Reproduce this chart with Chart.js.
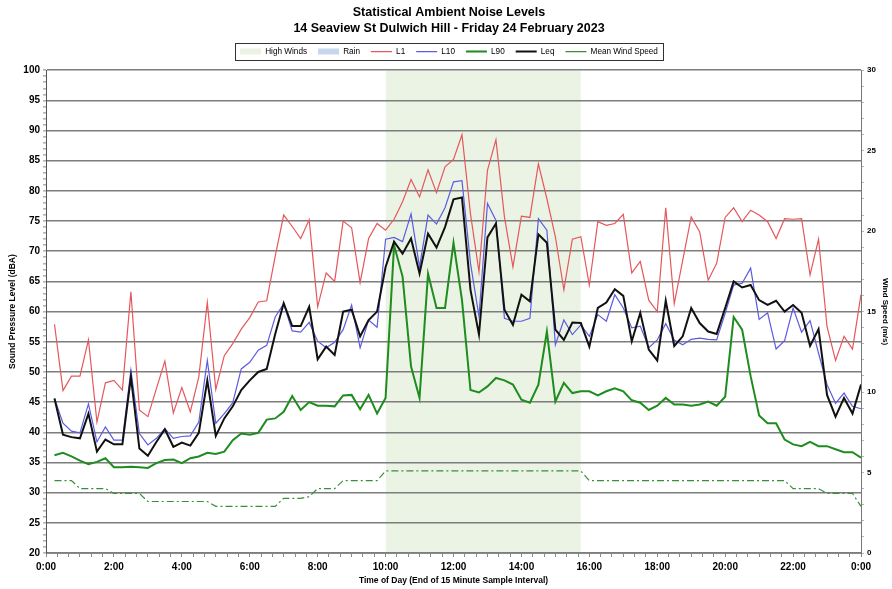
<!DOCTYPE html>
<html>
<head>
<meta charset="utf-8">
<script src="https://cdn.jsdelivr.net/npm/chart.js@4/dist/chart.umd.min.js"></script>
<style>
  html, body { margin: 0; padding: 0; background: #fff; }
  #wrap { width: 892px; height: 589px; }
</style>
</head>
<body>
<div id="wrap"><canvas id="noiseChart" width="892" height="589"></canvas></div>
<script>
/* global Chart:false */

// End of each 15 minute sample interval
var times = [
  "0:15", "0:30", "0:45", "1:00", "1:15", "1:30", "1:45", "2:00",
  "2:15", "2:30", "2:45", "3:00", "3:15", "3:30", "3:45", "4:00",
  "4:15", "4:30", "4:45", "5:00", "5:15", "5:30", "5:45", "6:00",
  "6:15", "6:30", "6:45", "7:00", "7:15", "7:30", "7:45", "8:00",
  "8:15", "8:30", "8:45", "9:00", "9:15", "9:30", "9:45", "10:00",
  "10:15", "10:30", "10:45", "11:00", "11:15", "11:30", "11:45", "12:00",
  "12:15", "12:30", "12:45", "13:00", "13:15", "13:30", "13:45", "14:00",
  "14:15", "14:30", "14:45", "15:00", "15:15", "15:30", "15:45", "16:00",
  "16:15", "16:30", "16:45", "17:00", "17:15", "17:30", "17:45", "18:00",
  "18:15", "18:30", "18:45", "19:00", "19:15", "19:30", "19:45", "20:00",
  "20:15", "20:30", "20:45", "21:00", "21:15", "21:30", "21:45", "22:00",
  "22:15", "22:30", "22:45", "23:00", "23:15", "23:30", "23:45", "24:00"
];

var l1 = [
  57.9, 46.9, 49.3, 49.3, 55.3, 41.7, 48.2, 48.6,
  47.0, 63.3, 43.7, 42.6, 47.2, 51.8, 43.2, 47.4,
  43.4, 49.2, 61.5, 47.1, 52.7, 54.7, 57.1, 59.0,
  61.6, 61.8, 69.2, 76.0, 74.1, 72.1, 75.2, 60.8,
  66.4, 65.0, 75.0, 73.9, 64.8, 72.1, 74.6, 73.5,
  75.3, 78.2, 81.9, 79.0, 83.5, 79.7, 84.0, 85.2,
  89.3, 76.2, 66.6, 83.4, 88.5, 75.7, 67.4, 75.8,
  75.6, 84.5, 78.7, 72.4, 63.6, 72.0, 72.4, 64.4,
  74.9, 74.3, 74.6, 76.1, 66.4, 68.3, 61.9, 60.0,
  77.2, 61.3, 68.5, 75.7, 73.2, 65.2, 68.0, 75.6,
  77.2, 74.9, 76.8, 76.0, 74.9, 72.1, 75.4, 75.3,
  75.4, 66.1, 72.0, 57.5, 51.9, 55.9, 53.8, 62.8
];

var l10 = [
  45.6, 41.5, 40.2, 39.9, 44.7, 38.4, 40.9, 38.7,
  38.7, 50.3, 39.8, 37.9, 39.0, 40.6, 39.0, 39.3,
  39.4, 41.7, 51.9, 41.5, 43.1, 44.9, 50.5, 51.6,
  53.6, 54.4, 59.1, 61.3, 56.8, 56.6, 58.2, 55.1,
  54.0, 54.9, 57.0, 61.1, 54.0, 58.6, 57.4, 72.0,
  72.3, 71.6, 76.2, 67.4, 76.0, 74.5, 77.2, 81.5,
  81.7, 68.0, 59.2, 77.9, 75.1, 58.9, 58.4, 58.4,
  58.9, 75.4, 73.5, 54.5, 58.6, 56.2, 57.8, 55.9,
  59.5, 58.4, 62.8, 60.6, 57.3, 57.6, 54.0, 55.3,
  58.0, 55.3, 54.5, 55.4, 55.6, 55.4, 55.3, 59.7,
  64.4, 64.7, 67.2, 58.7, 59.8, 53.8, 55.2, 60.6,
  56.6, 58.5, 53.1, 47.9, 44.8, 46.5, 44.3, 43.9
];

var l90 = [
  36.2, 36.6, 36.0, 35.3, 34.7, 35.1, 35.7, 34.2,
  34.2, 34.3, 34.2, 34.1, 34.9, 35.4, 35.5, 34.9,
  35.7, 36.0, 36.6, 36.4, 36.8, 38.7, 39.8, 39.6,
  39.9, 42.1, 42.3, 43.4, 46.0, 43.7, 45.0, 44.4,
  44.4, 44.3, 46.1, 46.2, 43.8, 46.2, 43.1, 45.7,
  71.0, 65.8, 50.9, 45.7, 66.3, 60.6, 60.6, 71.4,
  61.9, 47.0, 46.6, 47.6, 49.0, 48.6, 47.9, 45.4,
  44.9, 47.9, 56.7, 45.1, 48.2, 46.5, 46.8, 46.8,
  46.1, 46.8, 47.3, 46.8, 45.3, 44.9, 43.7, 44.4,
  45.7, 44.6, 44.6, 44.4, 44.6, 45.1, 44.4, 45.9,
  59.1, 57.0, 49.3, 42.8, 41.5, 41.5, 38.8, 38.0,
  37.7, 38.4, 37.7, 37.7, 37.2, 36.7, 36.7, 35.8
];

var leq = [
  45.6, 39.6, 39.2, 39.0, 43.1, 36.8, 38.8, 38.0,
  38.0, 49.2, 37.3, 36.1, 38.4, 40.5, 37.6, 38.3,
  37.8, 39.9, 48.6, 39.4, 42.3, 44.3, 47.0, 48.6,
  50.0, 50.5, 56.3, 61.4, 57.6, 57.6, 60.8, 52.1,
  54.2, 52.8, 60.0, 60.3, 55.9, 58.6, 60.0, 67.4,
  71.6, 69.6, 72.1, 66.3, 72.9, 70.6, 74.0, 78.6,
  78.9, 63.6, 56.2, 72.3, 74.6, 60.3, 57.8, 62.8,
  61.7, 72.8, 71.4, 57.0, 55.3, 58.2, 58.1, 54.2,
  60.6, 61.5, 63.7, 62.6, 55.1, 59.8, 53.7, 51.9,
  61.8, 54.3, 55.9, 60.6, 58.1, 56.7, 56.3, 60.6,
  65.0, 64.0, 64.4, 61.9, 61.1, 61.8, 60.0, 61.1,
  59.8, 54.3, 57.1, 46.2, 42.6, 45.7, 43.1, 47.9
];

// Mean wind speed, m/s (right axis)
var windSpeed = [
  4.5, 4.5, 4.5, 4.0, 4.0, 4.0, 4.0, 3.7,
  3.7, 3.7, 3.7, 3.2, 3.2, 3.2, 3.2, 3.2,
  3.2, 3.2, 3.2, 2.9, 2.9, 2.9, 2.9, 2.9,
  2.9, 2.9, 2.9, 3.4, 3.4, 3.4, 3.5, 4.0,
  4.0, 4.0, 4.5, 4.5, 4.5, 4.5, 4.5, 5.1,
  5.1, 5.1, 5.1, 5.1, 5.1, 5.1, 5.1, 5.1,
  5.1, 5.1, 5.1, 5.1, 5.1, 5.1, 5.1, 5.1,
  5.1, 5.1, 5.1, 5.1, 5.1, 5.1, 5.1, 4.5,
  4.5, 4.5, 4.5, 4.5, 4.5, 4.5, 4.5, 4.5,
  4.5, 4.5, 4.5, 4.5, 4.5, 4.5, 4.5, 4.5,
  4.5, 4.5, 4.5, 4.5, 4.5, 4.5, 4.5, 4.0,
  4.0, 4.0, 4.0, 3.7, 3.7, 3.7, 3.7, 2.9
];

var highWindsPeriod = ["10:00", "15:45"];
var rainPeriods = [];

var titleLines = [
  "Statistical Ambient Noise Levels",
  "14 Seaview St Dulwich Hill - Friday 24 February 2023"
];

function toHours(label) {
  var parts = label.split(":");
  return parseInt(parts[0], 10) + parseInt(parts[1], 10) / 60;
}

function toPoints(values) {
  return values.map(function (v, i) {
    return { x: toHours(times[i]), y: v };
  });
}

function makeTicks(min, max, step) {
  var out = [];
  for (var k = 0; min + k * step <= max + 1e-9; k++) {
    out.push({ value: min + k * step });
  }
  return out;
}

var FONT = "'Liberation Sans', Arial, sans-serif";
Chart.defaults.font.family = FONT;
Chart.defaults.color = "#000";

// draws the thin frame round the legend, like the spreadsheet one
var legendFrame = {
  id: "legendFrame",
  afterDraw: function (chart) {
    var boxes = chart.legend && chart.legend.legendHitBoxes;
    if (!boxes || !boxes.length) return;
    var left = Math.min.apply(null, boxes.map(function (b) { return b.left; })) - 5;
    var right = Math.max.apply(null, boxes.map(function (b) { return b.left + b.width; })) + 5;
    var top = boxes[0].top - 5;
    var bottom = boxes[0].top + boxes[0].height + 4;
    var ctx = chart.ctx;
    ctx.save();
    ctx.strokeStyle = "#333";
    ctx.lineWidth = 1;
    ctx.strokeRect(Math.round(left) + 0.5, Math.round(top) + 0.5, Math.round(right - left), Math.round(bottom - top));
    ctx.restore();
  },
};

var lineBase = { pointRadius: 0, pointHoverRadius: 0, tension: 0, fill: false, pointStyle: "line" };

var ctx = document.getElementById("noiseChart").getContext("2d");
var noiseChart = new Chart(ctx, {
  type: "line",
  data: {
    datasets: [
      {
        label: "High Winds",
        data: highWindsPeriod.map(function (t) { return { x: toHours(t), y: 100 }; }),
        backgroundColor: "#ebf3e4",
        borderColor: "#ebf3e4",
        borderWidth: 0,
        fill: "start",
        pointRadius: 0,
        pointStyle: "rect",
        order: 7,
      },
      {
        label: "Rain",
        data: rainPeriods,
        backgroundColor: "#c8d7ee",
        borderColor: "#c8d7ee",
        borderWidth: 0,
        fill: "start",
        pointRadius: 0,
        pointStyle: "rect",
        order: 6,
      },
      Object.assign({}, lineBase, {
        label: "L1",
        data: toPoints(l1),
        borderColor: "#e5575c",
        backgroundColor: "#e5575c",
        borderWidth: 1.2,
        order: 4,
      }),
      Object.assign({}, lineBase, {
        label: "L10",
        data: toPoints(l10),
        borderColor: "#5c5ce0",
        backgroundColor: "#5c5ce0",
        borderWidth: 1.2,
        order: 3,
      }),
      Object.assign({}, lineBase, {
        label: "L90",
        data: toPoints(l90),
        borderColor: "#1e8c1e",
        backgroundColor: "#1e8c1e",
        borderWidth: 2,
        order: 2,
      }),
      Object.assign({}, lineBase, {
        label: "Leq",
        data: toPoints(leq),
        borderColor: "#111111",
        backgroundColor: "#111111",
        borderWidth: 2,
        order: 1,
      }),
      Object.assign({}, lineBase, {
        label: "Mean Wind Speed",
        data: toPoints(windSpeed),
        borderColor: "#3a8f3a",
        backgroundColor: "#3a8f3a",
        borderWidth: 1.2,
        borderDash: [7, 3, 2, 3],
        yAxisID: "y1",
        order: 5,
      }),
    ],
  },
  options: {
    responsive: false,
    devicePixelRatio: 1,
    animation: false,
    events: [],
    layout: { padding: { left: 6, right: 0, top: 0, bottom: 0 } },
    plugins: {
      filler: { drawTime: "beforeDraw" },
      tooltip: { enabled: false },
      title: {
        display: true,
        text: titleLines,
        font: { size: 12.5, weight: "bold", lineHeight: 1.3 },
        padding: { top: 4, bottom: 0 },
        color: "#000",
      },
      legend: {
        display: true,
        position: "top",
        labels: {
          usePointStyle: true,
          pointStyleWidth: 21,
          boxHeight: 6,
          padding: 11,
          font: { size: 8.2 },
          color: "#000",
          sort: function (a, b) { return a.datasetIndex - b.datasetIndex; },
        },
      },
    },
    scales: {
      x: {
        type: "linear",
        position: "bottom",
        min: 0,
        max: 24,
        afterBuildTicks: function (s) { s.ticks = makeTicks(0, 24, 1 / 3); },
        afterFit: function (s) { s.height = 36; },
        ticks: {
          autoSkip: false,
          maxRotation: 0,
          padding: 4,
          font: { size: 10, weight: "bold" },
          callback: function (v) {
            var r = Math.round(v);
            if (Math.abs(v - r) > 1e-6 || r % 2 !== 0) return "";
            return (r % 24) + ":00";
          },
        },
        grid: { drawOnChartArea: false, tickLength: 4, tickColor: "#8a8a8a" },
        border: { color: "#8a8a8a", width: 1 },
        title: {
          display: true,
          text: "Time of Day (End of 15 Minute Sample Interval)",
          font: { size: 8.5, weight: "bold" },
          padding: { top: 0, bottom: 3 },
        },
      },
      xTop: {
        type: "linear",
        position: "top",
        display: true,
        min: 0,
        max: 24,
        grid: { display: false },
        border: { display: false },
        ticks: { display: false },
        afterFit: function (s) { s.height = 4.5; },
      },
      y: {
        type: "linear",
        position: "left",
        min: 20,
        max: 100,
        afterBuildTicks: function (s) { s.ticks = makeTicks(20, 100, 1); },
        afterFit: function (s) { s.width = 40; },
        ticks: {
          autoSkip: false,
          padding: 3,
          font: { size: 10, weight: "bold" },
          callback: function (v) { return v % 5 === 0 ? v : ""; },
        },
        grid: {
          color: function (c) {
            return c.tick && c.tick.value % 5 === 0 ? "#7d7d7d" : "rgba(0,0,0,0)";
          },
          lineWidth: 1.6,
          tickColor: "#b4b4b4",
          tickLength: 3,
        },
        border: { color: "#555", width: 1 },
        title: {
          display: true,
          text: "Sound Pressure Level (dBA)",
          font: { size: 8.5, weight: "bold" },
          padding: { top: 2, bottom: 0 },
        },
      },
      y1: {
        type: "linear",
        position: "right",
        min: 0,
        max: 30,
        afterBuildTicks: function (s) { s.ticks = makeTicks(0, 30, 1); },
        afterFit: function (s) { s.width = 31; },
        ticks: {
          autoSkip: false,
          padding: 3,
          font: { size: 8, weight: "bold" },
          callback: function (v) { return v % 5 === 0 ? v : ""; },
        },
        grid: { drawOnChartArea: false, tickLength: 3, tickColor: "#b4b4b4" },
        border: { color: "#777", width: 1 },
        title: {
          display: true,
          text: "Wind Speed (m/s)",
          font: { size: 8, weight: "bold" },
          padding: { top: 2, bottom: 0 },
        },
      },
    },
  },
  plugins: [legendFrame],
});
</script>
</body>
</html>
